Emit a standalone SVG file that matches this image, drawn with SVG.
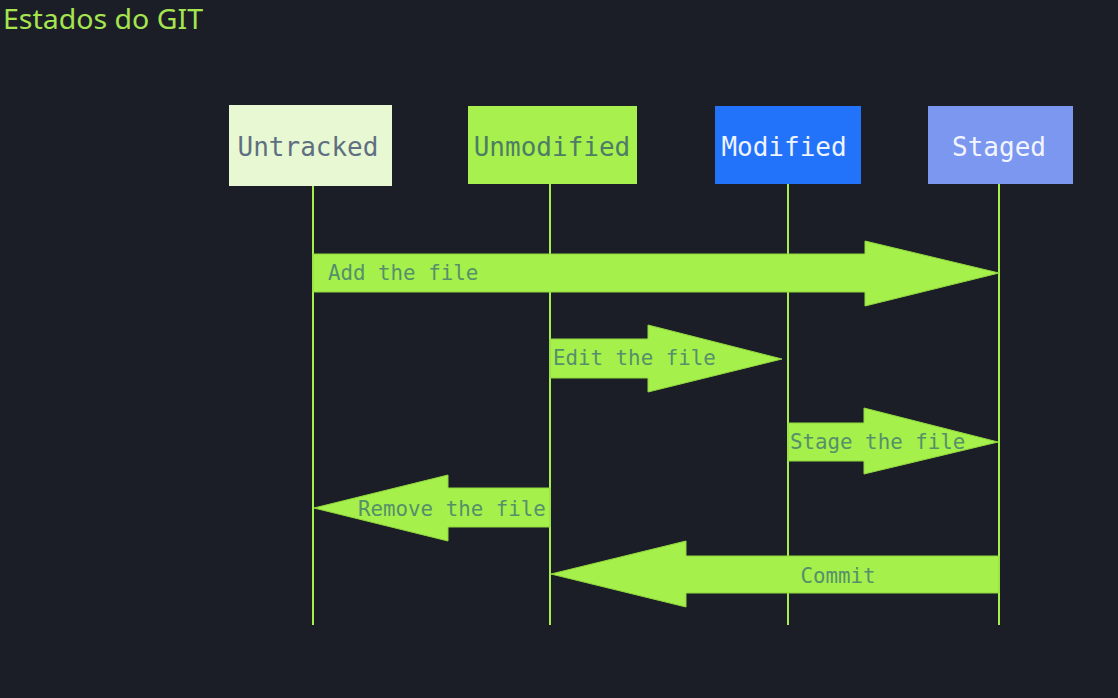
<svg xmlns="http://www.w3.org/2000/svg" width="1118" height="698" viewBox="0 0 1118 698">
  <style>
    .title { font-family: "Noto Sans", "Open Sans", sans-serif; font-size: 28px; fill: #a6e550; }
    .node-label { font-family: "DejaVu Sans Mono", "Liberation Mono", monospace; font-size: 26px; text-anchor: middle; }
    .lifeline { stroke: #a5ef4c; stroke-width: 2; fill: none; }
    .arrow { fill: #a5f04b; stroke: #92d83e; stroke-width: 1; }
    .arrow-label { font-family: "DejaVu Sans Mono", "Liberation Mono", monospace; font-size: 20.8px; fill: #55906a; }
  </style>

  <rect x="0" y="0" width="1118" height="698" fill="#1b1e26"/>

  <text class="title" x="3" y="29" textLength="200" lengthAdjust="spacingAndGlyphs">Estados do GIT</text>

  <!-- lifelines -->
  <g id="lifelines">
    <line class="lifeline" x1="313" y1="185" x2="313" y2="625"/>
    <line class="lifeline" x1="550" y1="184" x2="550" y2="625"/>
    <line class="lifeline" x1="788" y1="184" x2="788" y2="625"/>
    <line class="lifeline" x1="999" y1="184" x2="999" y2="625"/>
  </g>

  <!-- state nodes -->
  <g id="node-untracked">
    <rect x="229" y="105" width="163" height="81" fill="#e8f8d2"/>
    <text class="node-label" x="308" y="156" fill="#5f6f82">Untracked</text>
  </g>
  <g id="node-unmodified">
    <rect x="468" y="106" width="169" height="78" fill="#a8f04e"/>
    <text class="node-label" x="552" y="156" fill="#4d7d64">Unmodified</text>
  </g>
  <g id="node-modified">
    <rect x="715" y="106" width="146" height="78" fill="#2272fa"/>
    <text class="node-label" x="784" y="156" fill="#eef4ff">Modified</text>
  </g>
  <g id="node-staged">
    <rect x="928" y="106" width="145" height="78" fill="#7b97f0"/>
    <text class="node-label" x="999" y="156" fill="#f2f5ff">Staged</text>
  </g>

  <!-- transitions -->
  <g id="connectors">
    <g id="edge-add">
      <polygon class="arrow" points="313,254 865,254 865,241 999,273 865,306 865,292 313,292"/>
      <text class="arrow-label" x="328" y="280">Add the file</text>
    </g>
    <g id="edge-edit">
      <polygon class="arrow" points="550,339 648,339 648,325 782,359 648,392 648,378 550,378"/>
      <text class="arrow-label" x="553" y="365">Edit the file</text>
    </g>
    <g id="edge-stage">
      <polygon class="arrow" points="788,423 864,423 864,408 998,442 864,474 864,461 788,461"/>
      <text class="arrow-label" x="790" y="449">Stage the file</text>
    </g>
    <g id="edge-remove">
      <polygon class="arrow" points="550,488 448,488 448,475 314,508 448,541 448,527 550,527"/>
      <text class="arrow-label" x="358" y="516">Remove the file</text>
    </g>
    <g id="edge-commit">
      <polygon class="arrow" points="999,556 686,556 686,541 551,574 686,607 686,593 999,593"/>
      <text class="arrow-label" x="838" y="583" text-anchor="middle">Commit</text>
    </g>
  </g>
</svg>
